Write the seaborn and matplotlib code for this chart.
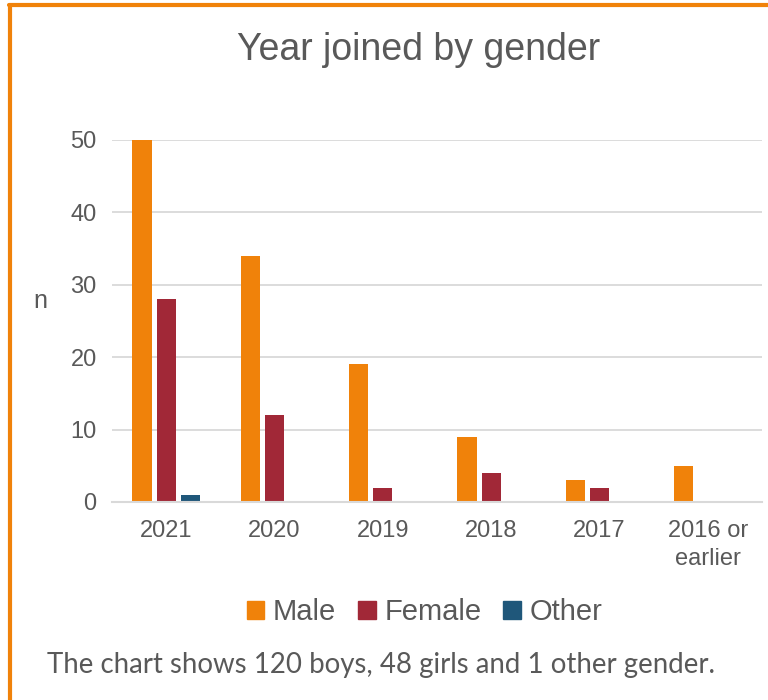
import pandas as pd
import numpy as np
import matplotlib.pyplot as plt
import seaborn as sns
from matplotlib.patches import Rectangle

# data
years = ["2021", "2020", "2019", "2018", "2017", "2016 or\nearlier"]
male = [50, 34, 19, 9, 3, 5]
female = [28, 12, 2, 4, 2, 0]
other = [1, 0, 0, 0, 0, 0]
genders = ["Male", "Female", "Other"]
colors = ["#F0820A", "#A12837", "#1F577A"]

df = pd.DataFrame({
    "year": years * 3,
    "gender": ["Male"] * 6 + ["Female"] * 6 + ["Other"] * 6,
    "n": male + female + other,
})

sns.set_style("white")
plt.rcParams['font.family'] = ['Liberation Sans', 'DejaVu Sans']
text_col = "#595959"

fig = plt.figure(figsize=(7.68, 7.00), dpi=100)
ax = fig.add_axes([112 / 768, 1 - 502 / 700, 650 / 768, 362 / 700])

sns.barplot(data=df, x="year", y="n", hue="gender", hue_order=genders,
            palette=colors, width=0.667, gap=0.2, ax=ax, legend=False,
            edgecolor="none", saturation=1)

ax.set_ylim(0, 50)
ax.set_xlim(-0.5, 5.5)
ax.set_yticks(np.arange(0, 51, 10))
ax.grid(axis="y", color="#D9D9D9", linewidth=1.3)
ax.set_axisbelow(True)
for s in ["top", "right", "left"]:
    ax.spines[s].set_visible(False)
ax.spines["bottom"].set_color("#D9D9D9")
ax.spines["bottom"].set_linewidth(1.5)
ax.tick_params(axis="both", length=0, labelsize=17, labelcolor=text_col)
ax.tick_params(axis="x", pad=13)
ax.tick_params(axis="y", pad=11)
for lbl in ax.get_xticklabels():
    lbl.set_linespacing(1.35)
ax.set_xlabel("")
ax.set_ylabel("n", rotation=0, fontsize=18, color=text_col, labelpad=0,
              va="center")
ax.yaxis.set_label_coords(-0.11, 0.555)

fig.text(0.545, 0.929, "Year joined by gender", ha="center", va="center",
         fontsize=27, color=text_col)

# legend
handles = [Rectangle((0, 0), 1, 1, color=c) for c in colors]
fig.legend(handles, genders, loc="center", bbox_to_anchor=(0.553, 0.125),
           ncol=3, frameon=False, fontsize=21, labelcolor=text_col,
           handlelength=0.6, handleheight=0.6, handletextpad=0.3,
           columnspacing=0.75)

fig.text(0.061, 0.05, "The chart shows 120 boys, 48 girls and 1 other gender.",
         ha="left", va="center", fontsize=19.9, color=text_col,
         family=["Lato", "DejaVu Sans"])

# orange frame (left and top edges visible)
fig.add_artist(plt.Line2D([0.0125, 0.0125], [0, 0.993], transform=fig.transFigure,
                          color="#F0820A", linewidth=3))
fig.add_artist(plt.Line2D([0.0115, 1], [0.993, 0.993], transform=fig.transFigure,
                          color="#F0820A", linewidth=3))

fig.savefig("out.png", dpi=100)
